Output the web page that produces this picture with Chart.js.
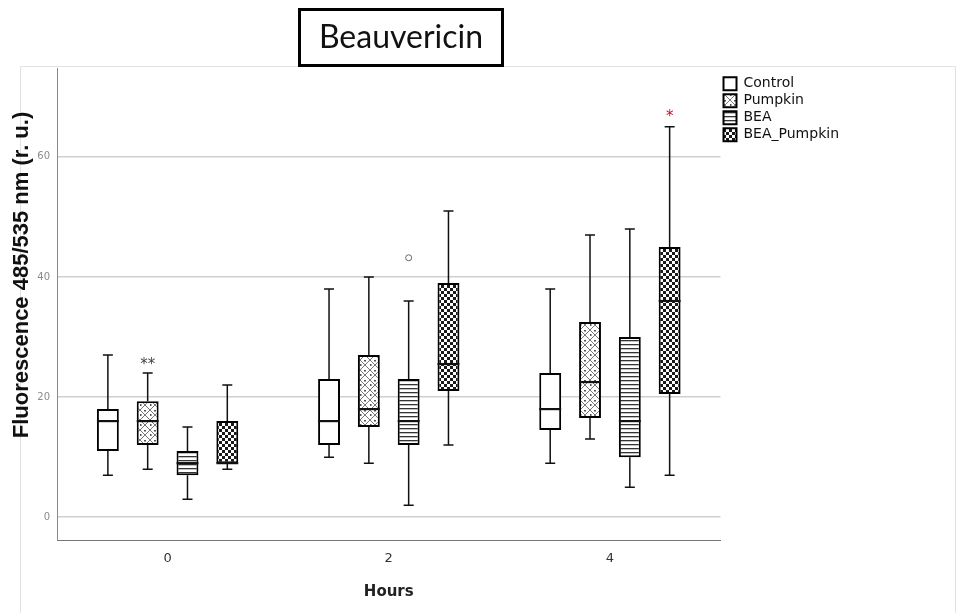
<!DOCTYPE html>
<html>
<head>
<meta charset="utf-8">
<script src="https://cdn.jsdelivr.net/npm/chart.js@4.4.1/dist/chart.umd.min.js"></script>
<style>
  html, body { margin: 0; padding: 0; background: #fff; }
  #wrap { position: relative; width: 958px; height: 613px; }
</style>
</head>
<body>
<div id="wrap"><canvas id="chart" width="958" height="613"></canvas></div>
<script>
// Hours on the x axis
const hours = ['0', '2', '4'];
const seriesNames = ['Control', 'Pumpkin', 'BEA', 'BEA_Pumpkin'];
const yTicks = [0, 20, 40, 60];

// Box plot summaries, one value per hour
const controlMin = [7, 10, 9];
const controlQ1 = [11, 12, 14.5];
const controlMed = [16, 16, 18];
const controlQ3 = [18, 23, 24];
const controlMax = [27, 38, 38];

const pumpkinMin = [8, 9, 13];
const pumpkinQ1 = [12, 15, 16.5];
const pumpkinMed = [16, 18, 22.5];
const pumpkinQ3 = [19.3, 27, 32.5];
const pumpkinMax = [24, 40, 47];

const beaMin = [3, 2, 5];
const beaQ1 = [7, 12, 10];
const beaMed = [9, 16, 16];
const beaQ3 = [11, 23, 30];
const beaMax = [15, 36, 48];

const beaPumpkinMin = [8, 12, 7];
const beaPumpkinQ1 = [9, 21, 20.5];
const beaPumpkinMed = [9, 25.5, 36];
const beaPumpkinQ3 = [16, 39, 45];
const beaPumpkinMax = [22, 51, 65];

// Outliers / extremes: series index, hour index, value, marker
const outlierSeries = [1, 2, 3];
const outlierHour = [0, 1, 2];
const outlierValue = [26.2, 43.2, 67.5];
const outlierMark = ['**', 'o', '*'];

const stats = [
    { min: controlMin, q1: controlQ1, med: controlMed, q3: controlQ3, max: controlMax },
    { min: pumpkinMin, q1: pumpkinQ1, med: pumpkinMed, q3: pumpkinQ3, max: pumpkinMax },
    { min: beaMin, q1: beaQ1, med: beaMed, q3: beaQ3, max: beaMax },
    { min: beaPumpkinMin, q1: beaPumpkinQ1, med: beaPumpkinMed, q3: beaPumpkinQ3, max: beaPumpkinMax }
];

const canvas = document.getElementById('chart');
const ctx = canvas.getContext('2d');

// fill patterns for the boxes
function makePattern(kind) {
    const tile = document.createElement('canvas');
    const g = tile.getContext('2d');
    if (kind === 'plain') {
        tile.width = tile.height = 4;
        g.fillStyle = '#fff';
        g.fillRect(0, 0, 4, 4);
    } else if (kind === 'cross') {
        tile.width = tile.height = 10;
        g.fillStyle = '#fff';
        g.fillRect(0, 0, 10, 10);
        g.strokeStyle = '#777';
        g.lineWidth = 1;
        g.beginPath();
        g.moveTo(0, 0); g.lineTo(10, 10);
        g.moveTo(10, 0); g.lineTo(0, 10);
        g.stroke();
        g.fillStyle = '#555';
        g.fillRect(4, 0, 2, 1.5);
        g.fillRect(0, 4, 1.5, 2);
    } else if (kind === 'stripes') {
        tile.width = 4; tile.height = 4;
        g.fillStyle = '#fff';
        g.fillRect(0, 0, 4, 4);
        g.fillStyle = '#333';
        g.fillRect(0, 0, 4, 1.3);
    } else {
        tile.width = tile.height = 6;
        g.fillStyle = '#fff';
        g.fillRect(0, 0, 6, 6);
        g.fillStyle = '#1a1a1a';
        g.fillRect(0, 0, 3, 3);
        g.fillRect(3, 3, 3, 3);
    }
    return ctx.createPattern(tile, 'repeat');
}

const fills = [makePattern('plain'), makePattern('cross'), makePattern('stripes'), makePattern('checker')];

const datasets = seriesNames.map((name, di) => ({
    label: name,
    data: hours.map((h, i) => [stats[di].q1[i], stats[di].q3[i]]),
    backgroundColor: fills[di],
    borderColor: '#000',
    borderWidth: 2,
    borderSkipped: false,
    categoryPercentage: 0.72,
    barPercentage: 0.55
}));

// whiskers, medians and outlier marks
const boxPlotPlugin = {
    id: 'boxPlot',
    afterDatasetsDraw(chart) {
        const c = chart.ctx;
        const y = chart.scales.y;
        const capHalf = 5;
        c.save();
        c.strokeStyle = '#111';
        chart.data.datasets.forEach((ds, di) => {
            const meta = chart.getDatasetMeta(di);
            const st = stats[di];
            meta.data.forEach((bar, i) => {
                const x = bar.x;
                const half = bar.width / 2;
                const pMin = y.getPixelForValue(st.min[i]);
                const pQ1 = y.getPixelForValue(st.q1[i]);
                const pMed = y.getPixelForValue(st.med[i]);
                const pQ3 = y.getPixelForValue(st.q3[i]);
                const pMax = y.getPixelForValue(st.max[i]);
                c.lineWidth = 1.5;
                c.beginPath();
                c.moveTo(x, pQ3); c.lineTo(x, pMax);
                c.moveTo(x, pQ1); c.lineTo(x, pMin);
                c.moveTo(x - capHalf, pMax); c.lineTo(x + capHalf, pMax);
                c.moveTo(x - capHalf, pMin); c.lineTo(x + capHalf, pMin);
                c.stroke();
                c.lineWidth = 2.2;
                c.beginPath();
                c.moveTo(x - half, pMed); c.lineTo(x + half, pMed);
                c.stroke();
            });
        });

        outlierValue.forEach((v, k) => {
            const bar = chart.getDatasetMeta(outlierSeries[k]).data[outlierHour[k]];
            const px = bar.x;
            const py = y.getPixelForValue(v);
            const mark = outlierMark[k];
            if (mark === 'o') {
                c.strokeStyle = '#666';
                c.lineWidth = 1;
                c.beginPath();
                c.arc(px, py, 3, 0, Math.PI * 2);
                c.stroke();
            } else {
                c.fillStyle = mark === '*' ? '#c8102e' : '#444';
                c.font = '15px "DejaVu Sans"';
                c.textAlign = 'center';
                c.textBaseline = 'alphabetic';
                c.fillText(mark, px, py + 9);
            }
        });
        c.restore();
    }
};

// boxed title, rotated y title and the faint outer frame
const decorPlugin = {
    id: 'decor',
    beforeDraw(chart) {
        const c = chart.ctx;
        c.save();
        c.strokeStyle = '#e2e2e2';
        c.lineWidth = 1;
        c.beginPath();
        c.moveTo(20.5, 613); c.lineTo(20.5, 66.5); c.lineTo(955.5, 66.5); c.lineTo(955.5, 613);
        c.stroke();
        c.restore();
    },
    afterDraw(chart) {
        const c = chart.ctx;
        c.save();
        c.strokeStyle = '#000';
        c.lineWidth = 3;
        c.strokeRect(299.5, 9.5, 203, 56);
        c.fillStyle = '#111';
        c.font = '32px Lato';
        c.textAlign = 'center';
        c.textBaseline = 'middle';
        c.fillText('Beauvericin', 401, 38);

        c.translate(22, 275);
        c.rotate(-Math.PI / 2);
        c.font = 'bold 22px "Liberation Sans"';
        c.fillText('Fluorescence 485/535 nm (r. u.)', 0, 0);
        c.restore();
    }
};

new Chart(ctx, {
    type: 'bar',
    data: { labels: hours, datasets: datasets },
    plugins: [boxPlotPlugin, decorPlugin],
    options: {
        responsive: false,
        animation: false,
        devicePixelRatio: 1,
        layout: { padding: { top: 68, right: 109, bottom: 0, left: 0 } },
        plugins: {
            tooltip: { enabled: false },
            title: { display: false },
            legend: {
                position: 'right',
                align: 'start',
                title: { display: true, text: ' ', font: { size: 4 }, padding: { top: 1, bottom: 0 } },
                labels: {
                    boxWidth: 13,
                    boxHeight: 13,
                    padding: 3,
                    color: '#111',
                    font: { family: 'DejaVu Sans', size: 14 },
                    generateLabels: chart => chart.data.datasets.map((ds, i) => ({
                        text: ds.label,
                        fillStyle: ds.backgroundColor,
                        strokeStyle: '#000',
                        fontColor: '#111',
                        lineWidth: 2,
                        hidden: false,
                        datasetIndex: i
                    }))
                }
            }
        },
        scales: {
            x: {
                afterFit: axis => { axis.height = 73; },
                grid: { display: false, drawTicks: false },
                border: { display: true, color: '#777', width: 1 },
                ticks: { padding: 11, color: '#333', font: { family: 'DejaVu Sans', size: 13 } },
                title: {
                    display: true,
                    text: 'Hours',
                    color: '#222',
                    font: { family: 'DejaVu Sans', size: 15, weight: 'bold' },
                    padding: { top: 16, bottom: 12 }
                }
            },
            y: {
                min: -3.8,
                max: 74.8,
                afterBuildTicks: axis => { axis.ticks = yTicks.map(v => ({ value: v })); },
                afterFit: axis => { axis.width = 57; },
                grid: { color: '#cfcfcf', lineWidth: 1.5, drawTicks: false },
                border: { display: true, color: '#8a8a8a', width: 1 },
                ticks: { padding: 7, color: '#8a8a8a', font: { family: 'DejaVu Sans', size: 10 } }
            }
        }
    }
});
</script>
</body>
</html>
